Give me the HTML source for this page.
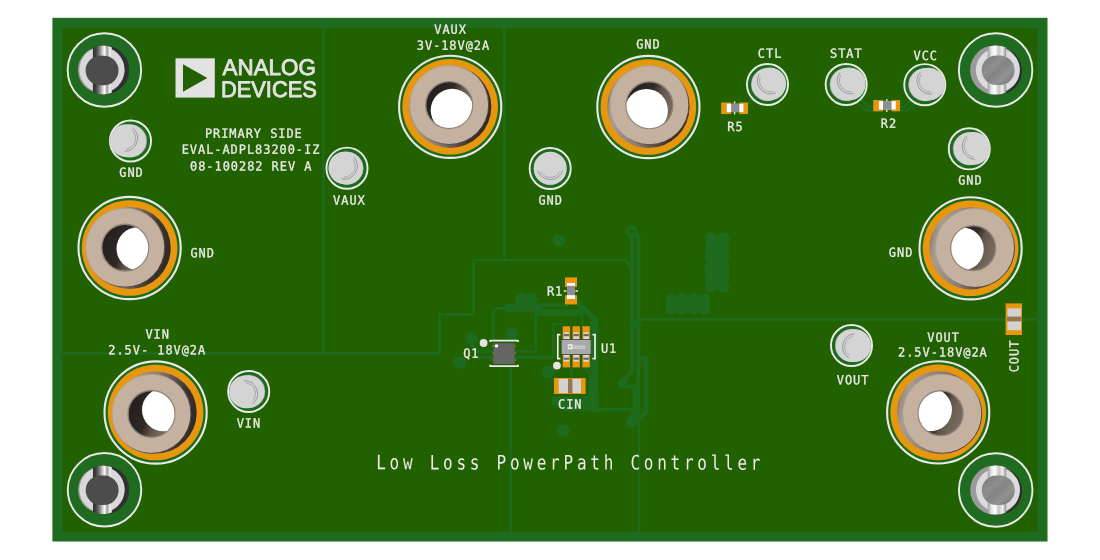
<!DOCTYPE html>
<html lang="en">
<head>
<meta charset="utf-8">
<title>EVAL-ADPL83200-IZ - Low Loss PowerPath Controller</title>
<style>
html,body{margin:0;padding:0;background:#fff;width:1100px;height:560px;overflow:hidden}
svg{display:block;position:absolute;left:0;top:0;will-change:transform}
text{font-family:"DejaVu Sans Mono","Liberation Mono",monospace;fill:#ebebeb;white-space:pre;text-rendering:geometricPrecision}
.s{font-size:12.6px;letter-spacing:1.004px;stroke:#ebebeb;stroke-width:0.3px}
.t{font-size:20px;letter-spacing:4.684px}
.lg{font-family:"Liberation Sans",Arial,sans-serif;font-size:22.6px;fill:#e2e2e2;stroke:#e2e2e2;stroke-width:0.85px;stroke-linejoin:miter}
</style>
</head>
<body>
<svg width="1100" height="560" viewBox="0 0 1100 560">
<defs>
<linearGradient id="barL" x1="0" x2="1" y1="0" y2="0">
<stop offset="0" stop-color="#2e2e2e"/><stop offset="0.12" stop-color="#3b3b3b"/><stop offset="0.3" stop-color="#6a6a6a"/>
<stop offset="0.5" stop-color="#c8c8c8"/><stop offset="0.62" stop-color="#fff"/><stop offset="0.75" stop-color="#9a9a9a"/>
<stop offset="0.9" stop-color="#f4f4f4"/><stop offset="1" stop-color="#cfcfcf"/>
</linearGradient>
<linearGradient id="barR" x1="0" x2="1" y1="0" y2="0">
<stop offset="0" stop-color="#9c9c9c"/><stop offset="0.2" stop-color="#e6e6e6"/><stop offset="0.4" stop-color="#fff"/>
<stop offset="0.6" stop-color="#c4c4c4"/><stop offset="0.8" stop-color="#efefef"/><stop offset="1" stop-color="#8e8e8e"/>
</linearGradient>
<linearGradient id="discR" x1="0" x2="1" y1="0" y2="1">
<stop offset="0" stop-color="#757575"/><stop offset="0.35" stop-color="#8f8f8f"/><stop offset="0.5" stop-color="#848484"/>
<stop offset="0.7" stop-color="#929292"/><stop offset="1" stop-color="#6e6e6e"/>
</linearGradient>
<linearGradient id="sideG" x1="0" y1="0.4" x2="1" y2="0.6">
<stop offset="0" stop-color="#6b6158"/><stop offset="0.03" stop-color="#988c81"/><stop offset="0.1" stop-color="#a89c90"/><stop offset="0.45" stop-color="#8a7d72"/><stop offset="0.8" stop-color="#3b332e"/><stop offset="1" stop-color="#2f2925"/>
</linearGradient>
<linearGradient id="rimG" x1="0.15" y1="0.15" x2="0.85" y2="0.85">
<stop offset="0" stop-color="#b5a798"/><stop offset="0.5" stop-color="#a5978b"/><stop offset="0.8" stop-color="#5a4f47"/><stop offset="1" stop-color="#453c36"/>
</linearGradient>
<linearGradient id="wallG" x1="0" y1="0.3" x2="1" y2="0.7">
<stop offset="0" stop-color="#221e1c"/><stop offset="0.45" stop-color="#2f2926"/><stop offset="0.62" stop-color="#5f5449"/><stop offset="0.75" stop-color="#6d6156"/><stop offset="1" stop-color="#786c60"/>
</linearGradient>
</defs>
<rect x="52.4" y="17.8" width="995.1" height="523.7" fill="#1f6b1f"/>
<rect x="62.5" y="28.2" width="974.9" height="503.4" fill="#216100"/>
<g fill="none" stroke="#1e6b1e" stroke-linecap="round" stroke-linejoin="round">
<path stroke-width="2.7" d="M323.3 28.2V353.4M62.5 353.4H439.4M504.2 28.2V260M473.7 314.4V260H625L630 266M439.4 353.4V314.4H473.7M510.5 367V531.6M639 424V531.6M640.5 319.4H1037.4M493.3 340V311.5Q493.3 308.5 496.5 308.5H504M535.8 312V351.5H516M536 314.7H582.2V326M553.3 357V324H562M746 106.5L755 97.5M862 100.5L869 107H873M858 103.5L866 110.5H873M900 107H904L911 100.5M900 110.5H907L915 103.5"/>
<path stroke-width="4.3" d="M632.1 236V371L622.7 381.5"/>
<path stroke-width="4.3" d="M635 233L638.4 237V412L632 419"/>
<path stroke-width="4" d="M631.6 231.4m-4.3 0a4.3 4.3 0 1 0 8.6 0a4.3 4.3 0 1 0 -8.6 0"/>
<path stroke-width="4.8" d="M646 358.5V412L634.5 424"/>
<path stroke-width="4.2" d="M624 386.5H634.6V412L631 417"/>
<path stroke-width="3.3" d="M590 409.6H633"/>
<path stroke-width="8.5" d="M594.3 322V408"/>
<path stroke-width="6" d="M577 302L594 319"/>
<path stroke-width="8.6" d="M508 308.2H538"/>
<path stroke-width="3.6" d="M538 305H568"/>
<path stroke-width="4" d="M538 311H587L596 320"/>
<path stroke-width="3.4" d="M471.4 338.4V345L478 351.5H493M478 357.3H493M516 357.3H553"/>
<path stroke-width="3.2" d="M583.5 367.5L590.4 373.5V395L586.3 399.3H554M571.6 367V378"/>
<path stroke="none" fill="#1e6b1e" d="M552 396.5H586L590 393H598.5V411.2H566L552 405Z"/>
</g>
<path fill="#1e6b1e" d="M709 239H725V286H709ZM671.6 297.6H704.3V310.4H671.6Z"/>
<g fill="#1e6b1e"><circle cx="563.1" cy="430.7" r="6.4"/><circle cx="559" cy="240.4" r="6.4"/><circle cx="521.6" cy="299.5" r="6.6"/><circle cx="531" cy="299.5" r="6.6"/><circle cx="635.3" cy="323.5" r="5.8"/><circle cx="622.7" cy="383.5" r="5.2"/><circle cx="631.3" cy="422.3" r="5.6"/><circle cx="643.5" cy="358.5" r="3.2"/><circle cx="471.4" cy="338.4" r="6.3"/><circle cx="459.6" cy="362.4" r="6.5"/><circle cx="512" cy="333.5" r="6.6"/><circle cx="548.5" cy="372" r="6.4"/><circle cx="711" cy="239" r="6.4"/><circle cx="723" cy="239" r="6.4"/><circle cx="711" cy="248.4" r="6.4"/><circle cx="723" cy="248.4" r="6.4"/><circle cx="711" cy="257.8" r="6.4"/><circle cx="723" cy="257.8" r="6.4"/><circle cx="711" cy="267.2" r="6.4"/><circle cx="723" cy="267.2" r="6.4"/><circle cx="711" cy="276.6" r="6.4"/><circle cx="723" cy="276.6" r="6.4"/><circle cx="711" cy="286" r="6.4"/><circle cx="723" cy="286" r="6.4"/><circle cx="671.6" cy="299.6" r="6.4"/><circle cx="671.6" cy="308.4" r="6.4"/><circle cx="682.5" cy="299.6" r="6.4"/><circle cx="682.5" cy="308.4" r="6.4"/><circle cx="693.4" cy="299.6" r="6.4"/><circle cx="693.4" cy="308.4" r="6.4"/><circle cx="704.3" cy="299.6" r="6.4"/><circle cx="704.3" cy="308.4" r="6.4"/></g>
<g>
<circle cx="450.2" cy="106.8" r="50.2" fill="#1b6b1b"/>
<circle cx="450.2" cy="106.8" r="51.1" fill="none" stroke="#e9e9e9" stroke-width="2.1"/>
<circle cx="450.2" cy="106.8" r="47.8" fill="#e7960d"/>
<circle cx="450.2" cy="106.8" r="41.1" fill="url(#sideG)"/>
<circle cx="449.15" cy="104.98" r="39.5" fill="#c4b1a0" stroke="url(#rimG)" stroke-width="1"/>
<circle cx="449.15" cy="104.98" r="23.4" fill="url(#wallG)" stroke="#8f8277" stroke-width="1.4"/>
<clipPath id="h0"><circle cx="449.15" cy="104.98" r="23"/></clipPath>
<circle cx="452.2" cy="110.26" r="21.5" fill="#fff" clip-path="url(#h0)"/>
</g>
<g>
<circle cx="648.4" cy="107" r="50.2" fill="#1b6b1b"/>
<circle cx="648.4" cy="107" r="51.1" fill="none" stroke="#e9e9e9" stroke-width="2.1"/>
<circle cx="648.4" cy="107" r="47.8" fill="#e7960d"/>
<circle cx="648.4" cy="107" r="41.1" fill="url(#sideG)"/>
<circle cx="649.43" cy="105.18" r="39.5" fill="#c4b1a0" stroke="url(#rimG)" stroke-width="1"/>
<circle cx="649.43" cy="105.18" r="23.4" fill="url(#wallG)" stroke="#8f8277" stroke-width="1.4"/>
<clipPath id="h1"><circle cx="649.43" cy="105.18" r="23"/></clipPath>
<circle cx="646.43" cy="110.46" r="21.5" fill="#fff" clip-path="url(#h1)"/>
</g>
<g>
<circle cx="129.6" cy="248" r="50.2" fill="#1b6b1b"/>
<circle cx="129.6" cy="248" r="51.1" fill="none" stroke="#e9e9e9" stroke-width="2.1"/>
<circle cx="129.6" cy="248" r="47.8" fill="#e7960d"/>
<circle cx="129.6" cy="248" r="41.1" fill="url(#sideG)"/>
<circle cx="125.19" cy="247.66" r="39.5" fill="#c4b1a0" stroke="url(#rimG)" stroke-width="1"/>
<circle cx="125.19" cy="247.66" r="23.4" fill="url(#wallG)" stroke="#8f8277" stroke-width="1.4"/>
<clipPath id="h2"><circle cx="125.19" cy="247.66" r="23"/></clipPath>
<circle cx="138.01" cy="248.64" r="21.5" fill="#fff" clip-path="url(#h2)"/>
</g>
<g>
<circle cx="970.6" cy="248.3" r="50.2" fill="#1b6b1b"/>
<circle cx="970.6" cy="248.3" r="51.1" fill="none" stroke="#e9e9e9" stroke-width="2.1"/>
<circle cx="970.6" cy="248.3" r="47.8" fill="#e7960d"/>
<circle cx="970.6" cy="248.3" r="41.1" fill="url(#sideG)"/>
<circle cx="975.02" cy="247.97" r="39.5" fill="#c4b1a0" stroke="url(#rimG)" stroke-width="1"/>
<circle cx="973.21" cy="248.1" r="22.4" fill="url(#wallG)" stroke="#8f8277" stroke-width="1.4"/>
<clipPath id="h3"><circle cx="973.21" cy="248.1" r="22"/></clipPath>
<circle cx="962.19" cy="248.93" r="21.5" fill="#fff" clip-path="url(#h3)"/>
</g>
<g>
<circle cx="155.6" cy="412.5" r="50.2" fill="#1b6b1b"/>
<circle cx="155.6" cy="412.5" r="51.1" fill="none" stroke="#e9e9e9" stroke-width="2.1"/>
<circle cx="155.6" cy="412.5" r="47.8" fill="#e7960d"/>
<circle cx="155.6" cy="412.5" r="41.1" fill="url(#sideG)"/>
<circle cx="151.46" cy="413.89" r="39.5" fill="#c4b1a0" stroke="url(#rimG)" stroke-width="1"/>
<circle cx="151.46" cy="413.89" r="23.4" fill="url(#wallG)" stroke="#8f8277" stroke-width="1.4"/>
<clipPath id="h4"><circle cx="151.46" cy="413.89" r="23"/></clipPath>
<circle cx="163.49" cy="409.85" r="21.5" fill="#fff" clip-path="url(#h4)"/>
</g>
<g>
<circle cx="938.2" cy="412.4" r="50.2" fill="#1b6b1b"/>
<circle cx="938.2" cy="412.4" r="51.1" fill="none" stroke="#e9e9e9" stroke-width="2.1"/>
<circle cx="938.2" cy="412.4" r="47.8" fill="#e7960d"/>
<circle cx="938.2" cy="412.4" r="41.1" fill="url(#sideG)"/>
<circle cx="942.28" cy="413.79" r="39.5" fill="#c4b1a0" stroke="url(#rimG)" stroke-width="1"/>
<circle cx="940.61" cy="413.22" r="22.4" fill="url(#wallG)" stroke="#8f8277" stroke-width="1.4"/>
<clipPath id="h5"><circle cx="940.61" cy="413.22" r="22"/></clipPath>
<circle cx="930.44" cy="409.75" r="21.5" fill="#fff" clip-path="url(#h5)"/>
</g>
<g>
<circle cx="130.5" cy="141" r="20.55" fill="#1b6b1b" stroke="#e9e9e9" stroke-width="1.9"/>
<circle cx="130.5" cy="141" r="16.3" fill="#d4d4d4" stroke="#8e8e8e" stroke-width="0.6"/>
<path d="M129.41 140.9L126.14 140.58" stroke="#d4d4d4" stroke-width="32.8" stroke-linecap="round" fill="none"/>
<path d="M132.83 128.05A13.2 13.2 0 0 1 125.09 151.4" stroke="#858585" stroke-width="0.75" stroke-linecap="round" fill="none"/>
<path d="M132.69 130.82A11.1 11.1 0 0 1 126.63 149.1" stroke="#9a9a9a" stroke-width="0.75" stroke-linecap="round" fill="none"/>
</g>
<g>
<circle cx="347" cy="168.2" r="20.55" fill="#1b6b1b" stroke="#e9e9e9" stroke-width="1.9"/>
<circle cx="347" cy="168.2" r="16.3" fill="#d4d4d4" stroke="#8e8e8e" stroke-width="0.6"/>
<path d="M346.47 168.12L344.89 167.86" stroke="#d4d4d4" stroke-width="32.8" stroke-linecap="round" fill="none"/>
<path d="M354.18 157.49A13.2 13.2 0 0 1 342.31 179.05" stroke="#858585" stroke-width="0.75" stroke-linecap="round" fill="none"/>
<path d="M353.54 160.19A11.1 11.1 0 0 1 344.25 177.06" stroke="#9a9a9a" stroke-width="0.75" stroke-linecap="round" fill="none"/>
</g>
<g>
<circle cx="550.2" cy="168.5" r="20.55" fill="#1b6b1b" stroke="#e9e9e9" stroke-width="1.9"/>
<circle cx="550.2" cy="168.5" r="16.3" fill="#d4d4d4" stroke="#8e8e8e" stroke-width="0.6"/>
<path d="M550.2 168.42L550.2 168.17" stroke="#d4d4d4" stroke-width="32.8" stroke-linecap="round" fill="none"/>
<path d="M562.5 171.08A13.2 13.2 0 0 1 537.89 171.03" stroke="#858585" stroke-width="0.75" stroke-linecap="round" fill="none"/>
<path d="M559.82 171.81A11.1 11.1 0 0 1 540.56 171.78" stroke="#9a9a9a" stroke-width="0.75" stroke-linecap="round" fill="none"/>
</g>
<g>
<circle cx="767.5" cy="84.5" r="20.55" fill="#1b6b1b" stroke="#e9e9e9" stroke-width="1.9"/>
<circle cx="767.5" cy="84.5" r="16.3" fill="#d4d4d4" stroke="#8e8e8e" stroke-width="0.6"/>
<path d="M768.07 84.35L769.76 83.91" stroke="#d4d4d4" stroke-width="32.8" stroke-linecap="round" fill="none"/>
<path d="M775.32 92.94A13.2 13.2 0 0 1 758.87 74.64" stroke="#858585" stroke-width="0.75" stroke-linecap="round" fill="none"/>
<path d="M772.98 91.44A11.1 11.1 0 0 1 760.11 77.12" stroke="#9a9a9a" stroke-width="0.75" stroke-linecap="round" fill="none"/>
</g>
<g>
<circle cx="846.2" cy="84.5" r="20.55" fill="#1b6b1b" stroke="#e9e9e9" stroke-width="1.9"/>
<circle cx="846.2" cy="84.5" r="16.3" fill="#d4d4d4" stroke="#8e8e8e" stroke-width="0.6"/>
<path d="M846.97 84.35L849.28 83.91" stroke="#d4d4d4" stroke-width="32.8" stroke-linecap="round" fill="none"/>
<path d="M853.28 93.49A13.2 13.2 0 0 1 839.73 72.96" stroke="#858585" stroke-width="0.75" stroke-linecap="round" fill="none"/>
<path d="M851.19 91.67A11.1 11.1 0 0 1 840.58 75.6" stroke="#9a9a9a" stroke-width="0.75" stroke-linecap="round" fill="none"/>
</g>
<g>
<circle cx="924.8" cy="84.7" r="20.55" fill="#1b6b1b" stroke="#e9e9e9" stroke-width="1.9"/>
<circle cx="924.8" cy="84.7" r="16.3" fill="#d4d4d4" stroke="#8e8e8e" stroke-width="0.6"/>
<path d="M925.77 84.55L928.7 84.11" stroke="#d4d4d4" stroke-width="32.8" stroke-linecap="round" fill="none"/>
<path d="M931.68 93.91A13.2 13.2 0 0 1 920.31 72.09" stroke="#858585" stroke-width="0.75" stroke-linecap="round" fill="none"/>
<path d="M929.79 91.88A11.1 11.1 0 0 1 920.89 74.81" stroke="#9a9a9a" stroke-width="0.75" stroke-linecap="round" fill="none"/>
</g>
<g>
<circle cx="969.3" cy="148.8" r="20.55" fill="#1b6b1b" stroke="#e9e9e9" stroke-width="1.9"/>
<circle cx="969.3" cy="148.8" r="16.3" fill="#d4d4d4" stroke="#8e8e8e" stroke-width="0.6"/>
<path d="M970.39 148.7L973.66 148.41" stroke="#d4d4d4" stroke-width="32.8" stroke-linecap="round" fill="none"/>
<path d="M974.49 159.35A13.2 13.2 0 0 1 967.14 135.86" stroke="#858585" stroke-width="0.75" stroke-linecap="round" fill="none"/>
<path d="M972.98 157.01A11.1 11.1 0 0 1 967.23 138.64" stroke="#9a9a9a" stroke-width="0.75" stroke-linecap="round" fill="none"/>
</g>
<g>
<circle cx="851.5" cy="345.5" r="20.55" fill="#1b6b1b" stroke="#e9e9e9" stroke-width="1.9"/>
<circle cx="851.5" cy="345.5" r="16.3" fill="#d4d4d4" stroke="#8e8e8e" stroke-width="0.6"/>
<path d="M852.28 345.55L854.64 345.7" stroke="#d4d4d4" stroke-width="32.8" stroke-linecap="round" fill="none"/>
<path d="M848.59 357.82A13.2 13.2 0 0 1 853.81 333.77" stroke="#858585" stroke-width="0.75" stroke-linecap="round" fill="none"/>
<path d="M848.43 355.05A11.1 11.1 0 0 1 852.52 336.23" stroke="#9a9a9a" stroke-width="0.75" stroke-linecap="round" fill="none"/>
</g>
<g>
<circle cx="248.7" cy="391.5" r="20.55" fill="#1b6b1b" stroke="#e9e9e9" stroke-width="1.9"/>
<circle cx="248.7" cy="391.5" r="16.3" fill="#d4d4d4" stroke="#8e8e8e" stroke-width="0.6"/>
<path d="M247.92 391.58L245.57 391.83" stroke="#d4d4d4" stroke-width="32.8" stroke-linecap="round" fill="none"/>
<path d="M244.55 380.53A13.2 13.2 0 0 1 253.09 403.61" stroke="#858585" stroke-width="0.75" stroke-linecap="round" fill="none"/>
<path d="M246.17 382.78A11.1 11.1 0 0 1 252.85 400.84" stroke="#9a9a9a" stroke-width="0.75" stroke-linecap="round" fill="none"/>
</g>
<g>
<circle cx="104.4" cy="70" r="36.75" fill="#1f6b1f" stroke="#e9e9e9" stroke-width="1.9"/>
<clipPath id="s0"><circle cx="103" cy="70" r="24.4"/></clipPath>
<circle cx="104.6" cy="70" r="24.5" fill="#303030"/>
<circle cx="101.2" cy="70" r="23.3" fill="#9a9a9a"/>
<circle cx="101.9" cy="69.7" r="22.6" fill="#d8d8d8"/>
<rect x="92.9" y="45" width="18.9" height="50" fill="url(#barL)" clip-path="url(#s0)"/>
<rect x="85.6" y="55.7" width="32.9" height="29.6" rx="14.8" fill="#4c4c4c"/>
</g>
<g>
<circle cx="995.6" cy="70" r="36.75" fill="#1f6b1f" stroke="#e9e9e9" stroke-width="1.9"/>
<clipPath id="s1"><circle cx="996.2" cy="70" r="24.6"/></clipPath>
<circle cx="998" cy="70.9" r="24" fill="#2e2e2e"/>
<circle cx="994.6" cy="70" r="24.5" fill="#9b9b9b"/>
<circle cx="997.9" cy="70" r="22" fill="#dbdbdb"/>
<rect x="987.7" y="45" width="18.4" height="50" fill="url(#barR)" clip-path="url(#s1)"/>
<rect x="981.7" y="55.5" width="32.9" height="29.6" rx="14.8" fill="url(#discR)"/>
</g>
<g>
<circle cx="104.5" cy="489.8" r="36.75" fill="#1f6b1f" stroke="#e9e9e9" stroke-width="1.9"/>
<clipPath id="s2"><circle cx="103.1" cy="489.8" r="24.4"/></clipPath>
<circle cx="104.7" cy="489.8" r="24.5" fill="#303030"/>
<circle cx="101.3" cy="489.8" r="23.3" fill="#9a9a9a"/>
<circle cx="102" cy="489.5" r="22.6" fill="#d8d8d8"/>
<rect x="93" y="464.8" width="18.9" height="50" fill="url(#barL)" clip-path="url(#s2)"/>
<rect x="85.7" y="475.5" width="32.9" height="29.6" rx="14.8" fill="#4c4c4c"/>
</g>
<g>
<circle cx="995.7" cy="490" r="36.75" fill="#1f6b1f" stroke="#e9e9e9" stroke-width="1.9"/>
<clipPath id="s3"><circle cx="996.3" cy="490" r="24.6"/></clipPath>
<circle cx="998.1" cy="490.9" r="24" fill="#2e2e2e"/>
<circle cx="994.7" cy="490" r="24.5" fill="#9b9b9b"/>
<circle cx="998" cy="490" r="22" fill="#dbdbdb"/>
<rect x="987.8" y="465" width="18.4" height="50" fill="url(#barR)" clip-path="url(#s3)"/>
<rect x="981.8" y="475.5" width="32.9" height="29.6" rx="14.8" fill="url(#discR)"/>
</g>
<rect x="721.2" y="102.5" width="9.9" height="11.5" fill="#e7960d"/>
<rect x="739.4" y="102.5" width="8.6" height="11.5" fill="#e7960d"/>
<rect x="726.8" y="103.8" width="16.6" height="8.3" fill="#fff"/>
<rect x="731.1" y="103.8" width="8.3" height="8.3" fill="#8c8c95"/>
<path d="M734.6 101.3v2.2M734.6 112.1v2.4" stroke="#ebebeb" stroke-width="1.3" fill="none"/>
<rect x="873.3" y="100.1" width="9.7" height="11.2" fill="#e7960d"/>
<rect x="891.6" y="100.1" width="8.5" height="11.2" fill="#e7960d"/>
<rect x="878.9" y="101.2" width="16.9" height="8.3" fill="#fff"/>
<rect x="883" y="101.2" width="8.6" height="8.3" fill="#8c8c95"/>
<path d="M886.8 98.9v2.2M886.8 109.5v2.4" stroke="#ebebeb" stroke-width="1.3" fill="none"/>
<rect x="565" y="277.4" width="12" height="9.6" fill="#e7960d"/><rect x="565" y="295.2" width="12" height="9.2" fill="#e7960d"/>
<rect x="567" y="283" width="8" height="16" fill="#fff"/>
<rect x="567" y="285.8" width="8" height="9.4" fill="#8c8c95"/>
<path d="M563.8 291h2.6M575.4 291h2.6" stroke="#ebebeb" stroke-width="1.3" fill="none"/>
<rect x="554" y="378" width="31.6" height="16" fill="#e7960d"/>
<rect x="558.6" y="379" width="22.4" height="14" fill="#d2d2d2"/>
<rect x="568" y="378.6" width="4.4" height="14.8" fill="#97754f"/>
<rect x="1005.6" y="303.4" width="16.4" height="31.6" fill="#e7960d"/>
<rect x="1007.4" y="308.4" width="13.6" height="21.8" fill="#d2d2d2"/>
<rect x="1007" y="316.6" width="14.4" height="4.8" fill="#97754f"/>
<rect x="562.7" y="326.3" width="7.4" height="41.1" fill="#e7960d"/>
<rect x="563.7" y="332.4" width="5.4" height="29.2" fill="#d8d8d8"/>
<rect x="563.7" y="334" width="5.4" height="2.2" fill="#6a6a6a"/>
<rect x="563.7" y="357.6" width="5.4" height="2.2" fill="#6a6a6a"/>
<rect x="572.5" y="326.3" width="7.4" height="41.1" fill="#e7960d"/>
<rect x="573.5" y="332.4" width="5.4" height="29.2" fill="#d8d8d8"/>
<rect x="573.5" y="334" width="5.4" height="2.2" fill="#6a6a6a"/>
<rect x="573.5" y="357.6" width="5.4" height="2.2" fill="#6a6a6a"/>
<rect x="582.4" y="326.3" width="7.4" height="41.1" fill="#e7960d"/>
<rect x="583.4" y="332.4" width="5.4" height="29.2" fill="#d8d8d8"/>
<rect x="583.4" y="334" width="5.4" height="2.2" fill="#6a6a6a"/>
<rect x="583.4" y="357.6" width="5.4" height="2.2" fill="#6a6a6a"/>
<rect x="561.3" y="339.1" width="29.7" height="15.8" fill="#3c3c3c"/>
<rect x="561.6" y="339.9" width="29.1" height="14.2" fill="#a9a9a9"/>
<rect x="567.8" y="344.2" width="4.9" height="5" fill="#efefef"/>
<path d="M568.8 345.2L571.8 346.7L568.8 348.2Z" fill="#a9a9a9"/>
<text x="573.6" y="346.7" style="font-family:'Liberation Sans',sans-serif;font-size:2.7px;font-weight:bold;fill:#e6e6e6;stroke:none">ANALOG</text>
<text x="573.6" y="349.2" style="font-family:'Liberation Sans',sans-serif;font-size:2.7px;font-weight:bold;fill:#e6e6e6;stroke:none">DEVICES</text>
<path d="M560.4 334.5H557.8V358.7H560.4M592.5 334.5H595V358.7H592.5" stroke="#ebebeb" stroke-width="1.75" fill="none"/>
<circle cx="556.9" cy="365.6" r="3.9" fill="#e4e4e4"/>
<path d="M493.2 345v2.2M493.2 352v2.2M493.2 359v2.2M515 345v2.2M515 352v2.2M515 359v2.2" stroke="#c98a1a" stroke-width="1" fill="none"/>
<rect x="493.6" y="343.3" width="21" height="20.7" fill="#656565"/>
<circle cx="496.5" cy="345.9" r="1.7" fill="#fff"/>
<path d="M490.2 342V340.6H518V342M490.2 364.8V366.2H518V364.8" stroke="#ebebeb" stroke-width="1.75" fill="none" stroke-linejoin="round"/>
<circle cx="483.6" cy="343" r="3.9" fill="#e4e4e4"/>
<rect x="175.5" y="58.3" width="39.3" height="39.3" fill="#e2e2e2"/>
<path d="M183 64.2L207.3 77.9L183 91.8Z" fill="#216100"/>
<text class="lg" x="222.6" y="75.3" textLength="93.2" lengthAdjust="spacingAndGlyphs">ANALOG</text>
<text class="lg" x="220.9" y="96.9" textLength="96" lengthAdjust="spacingAndGlyphs">DEVICES</text>
<text class="s" transform="translate(434.23 33.75) rotate(0.05) scale(0.95 1)">VAUX</text>
<text class="s" transform="translate(416.72 49.75) rotate(0.05) scale(0.95 1)">3V-18V@2A</text>
<text class="s" transform="translate(636.14 48.45) rotate(0.05) scale(0.95 1)">GND</text>
<text class="s" transform="translate(757.82 57.85) rotate(0.05) scale(0.95 1)">CTL</text>
<text class="s" transform="translate(830.04 57.85) rotate(0.05) scale(0.95 1)">STAT</text>
<text class="s" transform="translate(913.5 59.95) rotate(0.05) scale(0.95 1)">VCC</text>
<text class="s" transform="translate(727.26 131.05) rotate(0.05) scale(0.95 1)">R5</text>
<text class="s" transform="translate(880.78 127.75) rotate(0.05) scale(0.95 1)">R2</text>
<text class="s" transform="translate(119.23 176.85) rotate(0.05) scale(0.95 1)">GND</text>
<text class="s" transform="translate(204.89 137.65) rotate(0.05) scale(0.95 1)">PRIMARY SIDE</text>
<text class="s" transform="translate(181.66 153.75) rotate(0.05) scale(0.95 1)">EVAL-ADPL83200-IZ</text>
<text class="s" transform="translate(190.04 170.45) rotate(0.05) scale(0.95 1)">08-100282 REV A</text>
<text class="s" transform="translate(333.11 204.55) rotate(0.05) scale(0.95 1)">VAUX</text>
<text class="s" transform="translate(538.4 204.45) rotate(0.05) scale(0.95 1)">GND</text>
<text class="s" transform="translate(190.42 257.25) rotate(0.05) scale(0.95 1)">GND</text>
<text class="s" transform="translate(958.14 184.45) rotate(0.05) scale(0.95 1)">GND</text>
<text class="s" transform="translate(888.86 256.85) rotate(0.05) scale(0.95 1)">GND</text>
<text class="s" transform="translate(546.92 295.45) rotate(0.05) scale(0.95 1)">R1</text>
<text class="s" transform="translate(463.18 357.85) rotate(0.05) scale(0.95 1)">Q1</text>
<text class="s" transform="translate(600.92 352.65) rotate(0.05) scale(0.95 1)">U1</text>
<text class="s" transform="translate(557.98 408.45) rotate(0.05) scale(0.95 1)">CIN</text>
<text class="s" transform="translate(145.45 338.45) rotate(0.05) scale(0.95 1)">VIN</text>
<text class="s" transform="translate(108.28 354.25) rotate(0.05) scale(0.95 1)">2.5V- 18V@2A</text>
<text class="s" transform="translate(236.64 427.45) rotate(0.05) scale(0.95 1)">VIN</text>
<text class="s" transform="translate(836.75 384.25) rotate(0.05) scale(0.95 1)">VOUT</text>
<text class="s" transform="translate(927.24 341.65) rotate(0.05) scale(0.95 1)">VOUT</text>
<text class="s" transform="translate(898.05 356.55) rotate(0.05) scale(0.95 1)">2.5V-18V@2A</text>
<text class="s" transform="translate(1018.42 372.31) rotate(-89.95) scale(0.95 1)">COUT</text>
<text class="t" transform="translate(376.18 469.35) rotate(0.05) scale(0.8 1)">Low Loss PowerPath Controller</text>
</svg>
</body>
</html>
